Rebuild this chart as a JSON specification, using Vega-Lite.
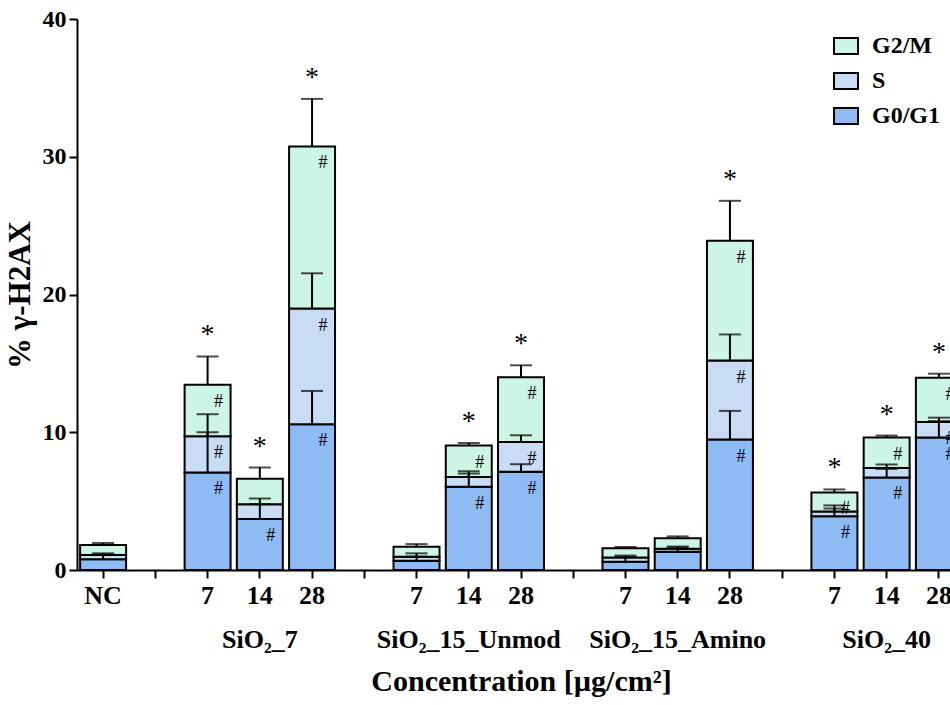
{
  "$schema": "https://vega.github.io/schema/vega-lite/v6.json",
  "autosize": {"type": "none"},
  "width": 888,
  "height": 551,
  "padding": {"left": 77, "top": 19, "right": 0, "bottom": 135},
  "background": "white",
  "config": {
    "view": {"stroke": null},
    "font": "Liberation Serif",
    "axis": {
      "labelFont": "Liberation Serif", "labelFontWeight": "bold", "labelColor": "black",
      "titleFont": "Liberation Serif", "titleFontWeight": "bold", "titleColor": "black",
      "domainColor": "black", "domainWidth": 2, "tickColor": "black", "tickWidth": 2, "tickSize": 8, "grid": false
    },
    "legend": {
      "labelFont": "Liberation Serif", "labelFontWeight": "bold", "labelFontSize": 24, "labelColor": "black"
    }
  },
  "data": {
    "values": [
      {"slot": "NC", "phase": "G0/G1", "ord": 1, "value": 0.78, "err": 0.35, "hash": 0, "star": 0},
      {"slot": "NC", "phase": "S", "ord": 2, "value": 0.31, "err": 0.12, "hash": 0, "star": 0},
      {"slot": "NC", "phase": "G2/M", "ord": 3, "value": 0.72, "err": 0.15, "hash": 0, "star": 0},
      {"slot": "A7", "phase": "G0/G1", "ord": 1, "value": 7.08, "err": 2.92, "hash": 1, "star": 0},
      {"slot": "A7", "phase": "S", "ord": 2, "value": 2.63, "err": 1.6, "hash": 1, "star": 0},
      {"slot": "A7", "phase": "G2/M", "ord": 3, "value": 3.74, "err": 2.05, "hash": 1, "star": 1},
      {"slot": "A14", "phase": "G0/G1", "ord": 1, "value": 3.70, "err": 1.08, "hash": 1, "star": 0},
      {"slot": "A14", "phase": "S", "ord": 2, "value": 1.08, "err": 0.41, "hash": 0, "star": 0},
      {"slot": "A14", "phase": "G2/M", "ord": 3, "value": 1.84, "err": 0.82, "hash": 0, "star": 1},
      {"slot": "A28", "phase": "G0/G1", "ord": 1, "value": 10.58, "err": 2.42, "hash": 1, "star": 0},
      {"slot": "A28", "phase": "S", "ord": 2, "value": 8.40, "err": 2.56, "hash": 1, "star": 0},
      {"slot": "A28", "phase": "G2/M", "ord": 3, "value": 11.77, "err": 3.45, "hash": 1, "star": 1},
      {"slot": "B7", "phase": "G0/G1", "ord": 1, "value": 0.67, "err": 0.3, "hash": 0, "star": 0},
      {"slot": "B7", "phase": "S", "ord": 2, "value": 0.29, "err": 0.25, "hash": 0, "star": 0},
      {"slot": "B7", "phase": "G2/M", "ord": 3, "value": 0.73, "err": 0.19, "hash": 0, "star": 0},
      {"slot": "B14", "phase": "G0/G1", "ord": 1, "value": 6.04, "err": 0.96, "hash": 1, "star": 0},
      {"slot": "B14", "phase": "S", "ord": 2, "value": 0.72, "err": 0.41, "hash": 0, "star": 0},
      {"slot": "B14", "phase": "G2/M", "ord": 3, "value": 2.27, "err": 0.19, "hash": 1, "star": 1},
      {"slot": "B28", "phase": "G0/G1", "ord": 1, "value": 7.13, "err": 0.55, "hash": 1, "star": 0},
      {"slot": "B28", "phase": "S", "ord": 2, "value": 2.17, "err": 0.48, "hash": 1, "star": 0},
      {"slot": "B28", "phase": "G2/M", "ord": 3, "value": 4.70, "err": 0.86, "hash": 1, "star": 1},
      {"slot": "C7", "phase": "G0/G1", "ord": 1, "value": 0.60, "err": 0.35, "hash": 0, "star": 0},
      {"slot": "C7", "phase": "S", "ord": 2, "value": 0.30, "err": 0.15, "hash": 0, "star": 0},
      {"slot": "C7", "phase": "G2/M", "ord": 3, "value": 0.67, "err": 0.10, "hash": 0, "star": 0},
      {"slot": "C14", "phase": "G0/G1", "ord": 1, "value": 1.33, "err": 0.30, "hash": 0, "star": 0},
      {"slot": "C14", "phase": "S", "ord": 2, "value": 0.22, "err": 0.15, "hash": 0, "star": 0},
      {"slot": "C14", "phase": "G2/M", "ord": 3, "value": 0.75, "err": 0.14, "hash": 0, "star": 0},
      {"slot": "C28", "phase": "G0/G1", "ord": 1, "value": 9.47, "err": 2.08, "hash": 1, "star": 0},
      {"slot": "C28", "phase": "S", "ord": 2, "value": 5.73, "err": 1.9, "hash": 1, "star": 0},
      {"slot": "C28", "phase": "G2/M", "ord": 3, "value": 8.70, "err": 2.9, "hash": 1, "star": 1},
      {"slot": "D7", "phase": "G0/G1", "ord": 1, "value": 3.91, "err": 0.55, "hash": 1, "star": 0},
      {"slot": "D7", "phase": "S", "ord": 2, "value": 0.34, "err": 0.44, "hash": 0, "star": 0},
      {"slot": "D7", "phase": "G2/M", "ord": 3, "value": 1.38, "err": 0.22, "hash": 1, "star": 1},
      {"slot": "D14", "phase": "G0/G1", "ord": 1, "value": 6.72, "err": 0.62, "hash": 1, "star": 0},
      {"slot": "D14", "phase": "S", "ord": 2, "value": 0.69, "err": 0.25, "hash": 0, "star": 0},
      {"slot": "D14", "phase": "G2/M", "ord": 3, "value": 2.20, "err": 0.15, "hash": 1, "star": 1},
      {"slot": "D28", "phase": "G0/G1", "ord": 1, "value": 9.61, "err": 1.2, "hash": 1, "star": 0},
      {"slot": "D28", "phase": "S", "ord": 2, "value": 1.14, "err": 0.31, "hash": 1, "star": 0},
      {"slot": "D28", "phase": "G2/M", "ord": 3, "value": 3.21, "err": 0.29, "hash": 1, "star": 1}
    ]
  },
  "transform": [
    {"stack": "value", "groupby": ["slot"], "sort": [{"field": "ord", "order": "ascending"}], "as": ["y0", "y1"]},
    {"calculate": "datum.y1 + datum.err", "as": "etop"}
  ],
  "encoding": {
    "x": {
      "field": "slot", "type": "nominal", "sort": null,
      "scale": {
        "domain": ["NC", "e1", "A7", "A14", "A28", "e2", "B7", "B14", "B28", "e3", "C7", "C14", "C28", "e4", "D7", "D14", "D28"],
        "paddingInner": 0.12, "paddingOuter": 0.06
      },
      "axis": {
        "title": "Concentration [µg/cm²]",
        "titleFontSize": 30,
        "titlePadding": 14,
        "labelFontSize": 26,
        "labelAngle": 0,
        "labelPadding": 4,
        "labelLineHeight": 44,
        "labelBaseline": "top",
        "labelLimit": 0,
        "labelOverlap": false,
        "labelExpr": "datum.value == 'A14' ? ['14', 'SiO₂_7'] : datum.value == 'B14' ? ['14', 'SiO₂_15_Unmod'] : datum.value == 'C14' ? ['14', 'SiO₂_15_Amino'] : datum.value == 'D14' ? ['14', 'SiO₂_40'] : datum.value == 'NC' ? 'NC' : indexof(datum.value, 'e') == 0 ? '' : substring(datum.value, 1)"
      }
    }
  },
  "layer": [
    {
      "mark": {"type": "bar", "stroke": "black", "strokeWidth": 2},
      "encoding": {
        "y": {"field": "y0", "type": "quantitative", "scale": {"domain": [0, 40], "nice": false},
          "axis": {"title": "% γ-H2AX", "titleFontSize": 31, "titlePadding": 6, "labelFontSize": 24, "values": [0, 10, 20, 30, 40], "labelPadding": 3}},
        "y2": {"field": "y1"},
        "fill": {
          "field": "phase", "type": "nominal",
          "scale": {"domain": ["G2/M", "S", "G0/G1"], "range": ["#CDF5E5", "#C8DCF6", "#8EBBF4"]},
          "legend": {
            "title": null, "orient": "none", "legendX": 756, "legendY": 14, "padding": 0,
            "symbolType": "M-1,-0.67H1V0.67H-1Z", "symbolSize": 576, "symbolStrokeColor": "black", "symbolStrokeWidth": 2,
            "labelOffset": 13, "rowPadding": 9, "labelLimit": 0
          }
        }
      }
    },
    {
      "mark": {"type": "rule", "color": "black", "strokeWidth": 2},
      "encoding": {"y": {"field": "y1", "type": "quantitative"}, "y2": {"field": "etop"}}
    },
    {
      "mark": {"type": "tick", "color": "black", "thickness": 2, "size": 22, "orient": "horizontal"},
      "encoding": {"y": {"field": "etop", "type": "quantitative"}}
    },
    {
      "transform": [{"filter": "datum.hash == 1"}],
      "mark": {"type": "text", "text": "#", "font": "Liberation Serif", "fontSize": 18, "color": "black", "xOffset": 11, "dy": 17, "baseline": "middle"},
      "encoding": {"y": {"field": "y1", "type": "quantitative"}}
    },
    {
      "transform": [{"filter": "datum.star == 1"}],
      "mark": {"type": "text", "text": "*", "font": "Liberation Serif", "fontSize": 28, "color": "black", "dy": -13, "baseline": "alphabetic"},
      "encoding": {"y": {"field": "etop", "type": "quantitative"}}
    }
  ]
}
